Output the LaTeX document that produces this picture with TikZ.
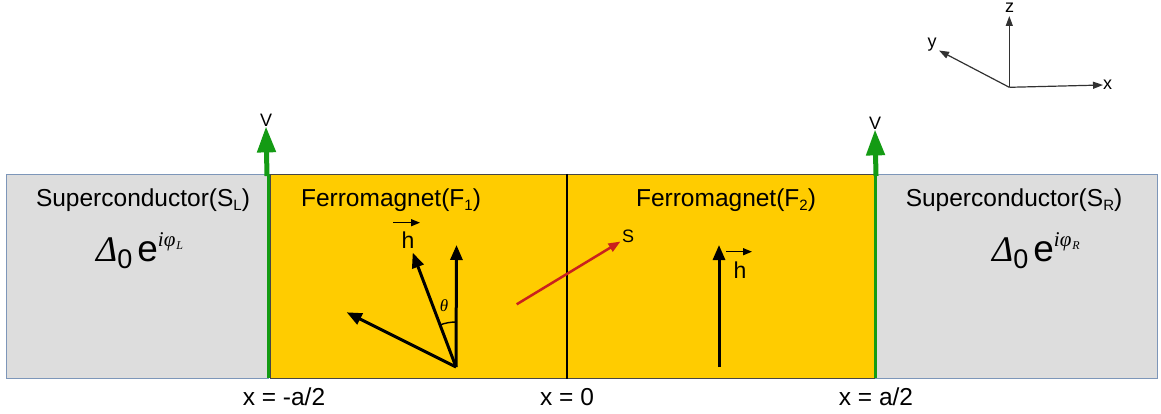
\documentclass[tikz,border=0pt]{standalone}
\usepackage{fontspec}
\setmainfont{Liberation Sans}
\newfontfamily\serf{Liberation Serif}
\usetikzlibrary{arrows.meta}
\definecolor{sgray}{RGB}{221,221,221}
\definecolor{sedge}{RGB}{125,150,185}
\definecolor{fyel}{RGB}{255,204,0}
\definecolor{fedge}{RGB}{70,70,70}
\definecolor{vgreen}{RGB}{20,155,20}
\definecolor{sred}{RGB}{201,33,30}
\definecolor{axcol}{RGB}{50,50,50}
\newcommand\fsz[1]{\fontsize{#1}{#1}\selectfont}
\newcommand\lowsub[1]{\raisebox{-4pt}{\fsz{15}#1}}
\tikzset{
  sbox/.style={draw=sedge, fill=sgray, line width=1pt, anchor=north west, inner sep=0pt, minimum height=204pt},
  fbox/.style={draw=fedge, fill=fyel, line width=1pt, anchor=north west, inner sep=0pt, minimum height=204pt},
  lbl/.style={inner sep=0pt, font=\fsz{24.5}},
  small/.style={inner sep=0pt, font=\fsz{18}},
  vec/.style={line width=3pt, -{Triangle[length=15pt,width=12pt]}},
  hvec/.style={line width=1.3pt, -{Triangle[length=9pt,width=7pt]}},
  gline/.style={vgreen, line width=3pt},
  garrow/.style={vgreen, line width=5pt, -{Triangle[length=26pt,width=18pt]}},
  axis/.style={axcol, line width=1.2pt, -{Triangle[length=10pt,width=7pt]}},
  redvec/.style={sred, line width=2.5pt, -{Triangle[length=12pt,width=9pt]}},
}
\begin{document}
\begin{tikzpicture}[x=1pt,y=-1pt]
\useasboundingbox (0,0) rectangle (1161,414);
% regions
\node[sbox, minimum width=262pt] (SL) at (6,174) {};
\node[fbox, minimum width=297pt] (F1) at (270,174) {};
\node[fbox, minimum width=307pt] (F2) at (567,174) {};
\node[sbox, minimum width=282pt] (SR) at (875,174) {};
\draw[black, line width=1.2pt] (F2.north west) -- (F2.south west);
% green interface lines and V arrows
\coordinate (gLt) at (268,174);
\coordinate (gLb) at (268,378);
\coordinate (gRt) at (875,174);
\coordinate (gRb) at (875,378);
\draw[gline] (gLt) -- (gLb);
\draw[gline] (gRt) -- (gRb);
\node[small] (VL) at (266,120) {V};
\node[small] (VR) at (875,123) {V};
\draw[garrow] (267,176) -- (VL.south);
\draw[garrow] (876,176) -- (VR.south);
% texts
\node[lbl] (tSL) at (143,200) {Superconductor(S\lowsub{L})};
\node[lbl] (tF1) at (391,200) {Ferromagnet(F\lowsub{1})};
\node[lbl] (tF2) at (726,200) {Ferromagnet(F\lowsub{2})};
\node[lbl] (tSR) at (1014,200) {Superconductor(S\lowsub{R})};
\node[anchor=base west, inner sep=0pt] (gapL) at (96,261)
  {{\serf\itshape\fsz{36}Δ}\raisebox{-7pt}{\fsz{27}0}\hspace{5pt}{\fsz{37}e}\raisebox{15pt}{\serf\itshape\fsz{21}iφ\hspace{1pt}\raisebox{-3pt}{\fsz{12}L}}};
\node[anchor=base west, inner sep=0pt] (gapR) at (992,261)
  {{\serf\itshape\fsz{36}Δ}\raisebox{-7pt}{\fsz{27}0}\hspace{5pt}{\fsz{37}e}\raisebox{15pt}{\serf\itshape\fsz{21}iφ\hspace{1pt}\raisebox{-3pt}{\fsz{12}R}}};
% F1 vectors
\coordinate (O1) at (456,367);
\coordinate (Z1) at (456.5,245);
\coordinate (H1) at (412.7,252.7);
\coordinate (L1) at (346.7,312.3);
\draw[vec] (O1) -- (Z1);
\draw[vec] (O1) -- (H1);
\draw[vec] (O1) -- (L1);
\draw[line width=1.4pt] (456,322) arc[start angle=-90, end angle=-110.7, radius=45];
\node[inner sep=0pt, font=\serf\itshape\fsz{17}] (th) at (444,306) {θ};
\node[inner sep=0pt, font=\fsz{23}] (h1) at (408,240) {h};
\coordinate (h1a) at (393,222.7);
\coordinate (h1b) at (420,222.7);
\draw[hvec] (h1a) -- (h1b);
% F2 vector
\coordinate (O2) at (719,367);
\coordinate (Z2) at (719,245);
\draw[vec] (O2) -- (Z2);
\node[inner sep=0pt, font=\fsz{23}] (h2) at (740,270) {h};
\coordinate (h2a) at (726,251.7);
\coordinate (h2b) at (752,251.7);
\draw[hvec] (h2a) -- (h2b);
% spin vector S
\node[small] (Slab) at (628,236.5) {S};
\coordinate (S0) at (516.7,304.3);
\coordinate (S1) at (620.5,241.5);
\draw[redvec] (S0) -- (S1);
% positions
\node[lbl] (xm) at (284,397) {x = -a/2};
\node[lbl] (x0) at (567,397) {x = 0};
\node[lbl] (xp) at (876,397) {x = a/2};
% axes
\coordinate (ax0) at (1009.3,87.3);
\node[small] (zl) at (1009.5,7.5) {z};
\node[small] (yl) at (932,45) {y};
\node[small] (xl) at (1107.5,85) {x};
\draw[axis] (ax0) -- (1009.3,16);
\draw[axis] (ax0) -- (939,50.5);
\draw[axis] (ax0) -- (1103,85);
\end{tikzpicture}
\end{document}
